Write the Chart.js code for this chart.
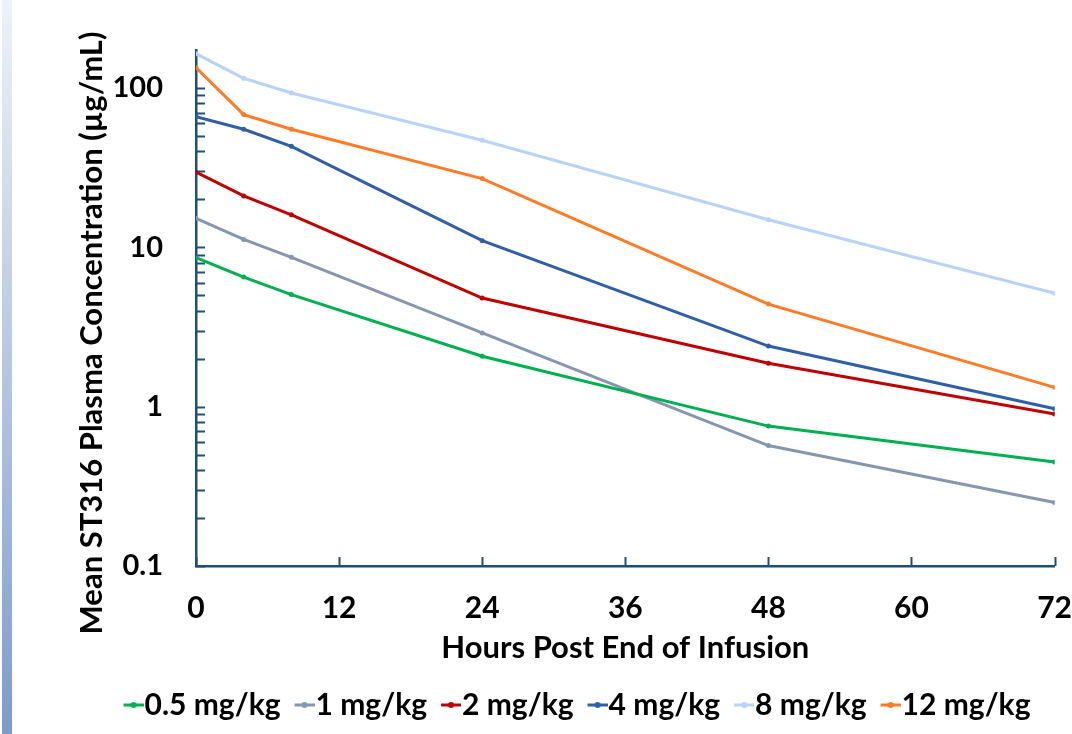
<!DOCTYPE html>
<html>
<head>
<meta charset="utf-8">
<title>ST316 plasma concentration</title>
<script src="https://cdn.jsdelivr.net/npm/chart.js@4.4.1/dist/chart.umd.min.js"></script>
<style>
  html, body { margin: 0; padding: 0; background: #fff; }
  #wrap { position: relative; width: 1072px; height: 734px; }
  #strip { position: absolute; left: 2px; top: 0; width: 10px; height: 734px;
           background: linear-gradient(#eef2f8, #7d9bcb); }
  #pk-chart { position: absolute; left: 0; top: 0; }
</style>
</head>
<body>
<div id="wrap">
  <div id="strip"></div>
  <canvas id="pk-chart" width="1072" height="734"></canvas>
</div>
<script>
// hours after end of infusion
const hours = [0, 4, 8, 24, 48, 72];

// mean concentration (µg/mL) per dose group
const dose05 = [8.6, 6.5, 5.05, 2.07, 0.755, 0.45];
const dose1 = [15.2, 11.2, 8.65, 2.9, 0.57, 0.25];
const dose2 = [29.6, 21, 16, 4.8, 1.87, 0.9];
const dose4 = [66, 55, 43, 11, 2.4, 0.97];
const dose8 = [164, 115, 93, 47, 14.9, 5.15];
const dose12 = [134, 68, 55, 27, 4.4, 1.32];

const doseLabels = ["0.5 mg/kg", "1 mg/kg", "2 mg/kg", "4 mg/kg", "8 mg/kg", "12 mg/kg"];
const doseColors = ["#00b050", "#8497b0", "#c00000", "#2e5fa8", "#b9d3f7", "#ff7b26"];
const doseSeries = [dose05, dose1, dose2, dose4, dose8, dose12];

const yMajor = [0.1, 1, 10, 100];
const xStep = 12;
const yTitle = "Mean ST316 Plasma Concentration (µg/mL)";

const axisColor = "#1f4e79";
const fontFamily = "Lato, 'Liberation Sans', sans-serif";

// legend marker: short line with a dot, pushed right so it sits next to the text
function makeMarker(color) {
  const c = document.createElement("canvas");
  c.width = 48;
  c.height = 10;
  const g = c.getContext("2d");
  g.strokeStyle = color;
  g.lineWidth = 3;
  g.beginPath();
  g.moveTo(28, 5);
  g.lineTo(48, 5);
  g.stroke();
  g.fillStyle = color;
  g.beginPath();
  g.arc(38, 5, 3, 0, Math.PI * 2);
  g.fill();
  return c;
}
const markers = doseColors.map(makeMarker);

// ticks drawn inside the plot, plus the rotated y title
const axisExtras = {
  id: "axisExtras",
  beforeDatasetsDraw(chart) {
    const ctx = chart.ctx;
    const { x, y } = chart.scales;
    const area = chart.chartArea;
    ctx.save();
    ctx.strokeStyle = axisColor;
    ctx.lineWidth = 2;
    y.ticks.forEach(t => {
      const v = t.value;
      const mant = v / Math.pow(10, Math.floor(Math.log10(v) + 1e-9));
      if (Math.abs(mant - Math.round(mant)) > 1e-6) return;
      const py = Math.round(y.getPixelForValue(v)) + 0.5;
      ctx.beginPath();
      ctx.moveTo(area.left, py);
      ctx.lineTo(area.left + 9, py);
      ctx.stroke();
    });
    x.ticks.forEach(t => {
      const px = Math.round(x.getPixelForValue(t.value)) + 0.5;
      ctx.beginPath();
      ctx.moveTo(px, area.bottom);
      ctx.lineTo(px, area.bottom - 9);
      ctx.stroke();
    });
    ctx.restore();
  },
  afterDraw(chart) {
    const ctx = chart.ctx;
    ctx.save();
    ctx.translate(102, 333);
    ctx.rotate(-Math.PI / 2);
    ctx.fillStyle = "#000";
    ctx.font = "bold 31px " + fontFamily;
    ctx.textAlign = "center";
    ctx.textBaseline = "alphabetic";
    ctx.fillText(yTitle, 0, 0);
    ctx.restore();
  }
};

const datasets = doseSeries.map((vals, i) => ({
  label: doseLabels[i],
  data: hours.map((h, j) => ({ x: h, y: vals[j] })),
  borderColor: doseColors[i],
  backgroundColor: doseColors[i],
  borderWidth: 3,
  pointRadius: 2.5,
  pointBorderWidth: 0,
  tension: 0
}));

new Chart(document.getElementById("pk-chart"), {
  type: "line",
  data: { datasets },
  options: {
    responsive: false,
    animation: false,
    layout: { padding: { left: 68, right: 0, top: 42, bottom: 4 } },
    plugins: {
      tooltip: { enabled: false },
      legend: {
        position: "bottom",
        labels: {
          color: "#000",
          font: { family: fontFamily, size: 30, weight: "bold" },
          usePointStyle: true,
          pointStyleWidth: 20,
          padding: 0,
          generateLabels: chart =>
            Chart.defaults.plugins.legend.labels.generateLabels(chart)
              .map((item, i) => ({ ...item, pointStyle: markers[i] }))
        }
      }
    },
    scales: {
      x: {
        type: "linear",
        min: 0,
        max: 72,
        afterFit: s => { s.height = 124; },
        border: { color: axisColor, width: 2.5 },
        // tick marks hidden here (drawn inside by the plugin), length only spaces the labels
        grid: { display: false, drawTicks: true, tickLength: 24 },
        ticks: {
          stepSize: xStep,
          padding: 0,
          color: "#000",
          font: { family: fontFamily, size: 30, weight: "bold" }
        },
        title: {
          display: true,
          text: "Hours Post End of Infusion",
          color: "#000",
          padding: { top: 4, bottom: 23 },
          font: { family: fontFamily, size: 31, weight: "bold" }
        }
      },
      y: {
        type: "logarithmic",
        min: 0.1,
        max: 172,
        afterFit: s => { s.width = 128; },
        border: { color: axisColor, width: 2.5 },
        grid: { display: false, drawTicks: false },
        ticks: {
          autoSkip: false,
          padding: 33,
          color: "#000",
          font: { family: fontFamily, size: 29, weight: "bold" },
          callback: v => yMajor.some(m => Math.abs(v - m) < 1e-9) ? String(v) : ""
        }
      }
    }
  },
  plugins: [axisExtras]
});
</script>
</body>
</html>
